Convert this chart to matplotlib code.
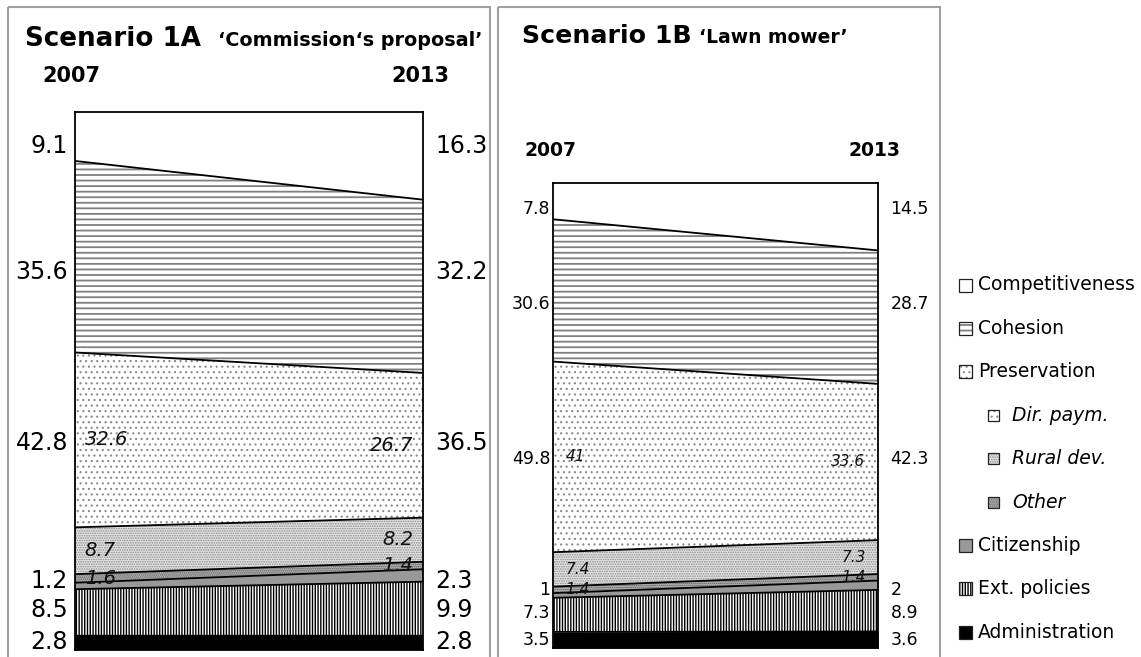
import numpy as np
import matplotlib
matplotlib.use('Agg')
import matplotlib.pyplot as plt
from matplotlib.patches import Rectangle

# ---------------- data ----------------
years = ['2007', '2013']
legend_names = ['Competitiveness', 'Cohesion', 'Preservation', 'Dir. paym.',
                'Rural dev.', 'Other', 'Citizenship', 'Ext. policies', 'Administration']

# Scenario 1A 'Commission's proposal'
admin_1a = [2.8, 2.8]
ext_1a = [8.5, 9.9]
citizen_1a = [1.2, 2.3]
preserv_1a = [42.8, 36.5]
other_1a = [1.6, 1.4]
rural_1a = [8.7, 8.2]
dirpay_1a = [32.6, 26.7]
cohesion_1a = [35.6, 32.2]
compet_1a = [9.1, 16.3]

# Scenario 1B 'Lawn mower'
admin_1b = [3.5, 3.6]
ext_1b = [7.3, 8.9]
citizen_1b = [1.0, 2.0]
preserv_1b = [49.8, 42.3]
other_1b = [1.4, 1.4]
rural_1b = [7.4, 7.3]
dirpay_1b = [41.0, 33.6]
cohesion_1b = [30.6, 28.7]
compet_1b = [7.8, 14.5]

# ---------------- styles ----------------
plt.rcParams['font.family'] = ['DejaVu Sans']

STY = {
    'Competitiveness': dict(fc='white', hc='white', hatch=None, hlw=0.8),
    'Cohesion': dict(fc='white', hc='#808080', hatch='---', hlw=1.3),
    'Preservation': dict(fc='white', hc='#8a8a8a', hatch='...', hlw=0.8),
    'Dir. paym.': dict(fc='white', hc='#8a8a8a', hatch='...', hlw=0.8),
    'Rural dev.': dict(fc='#e4e4e4', hc='#8a8a8a', hatch='.......', hlw=0.8),
    'Other': dict(fc='#b8b8b8', hc='#5a5a5a', hatch='........', hlw=0.8),
    'Citizenship': dict(fc='#999999', hc='#999999', hatch=None, hlw=0.8),
    'Ext. policies': dict(fc='white', hc='black', hatch='||||||', hlw=1.0),
    'Administration': dict(fc='black', hc='black', hatch=None, hlw=0.8),
}

W, H = 1141, 657
fig = plt.figure(figsize=(W / 100, H / 100), dpi=100)

# overlay axes in pixel coordinates for frames, titles and legend
ov = fig.add_axes([0, 0, 1, 1])
ov.set_xlim(0, W)
ov.set_ylim(H, 0)
ov.axis('off')
ov.patch.set_alpha(0)
ov.set_zorder(0)

ov.add_patch(Rectangle((8, 7), 482, 700, fill=False, ec='#a0a0a0', lw=1.5, clip_on=False))
ov.add_patch(Rectangle((498, 7), 442, 700, fill=False, ec='#a0a0a0', lw=1.5, clip_on=False))


def px_axes(x0, y0, x1, y1):
    return fig.add_axes([x0 / W, (H - y1) / H, (x1 - x0) / W, (y1 - y0) / H])


def fmt(v):
    return f"{v:g}"


def draw_panel(ax, admin, ext, citizen, preserv, other, rural, dirpay, cohesion, compet,
               outer_fs, inner_fs, out_off_l, out_off_r, in_off):
    x = np.array([0.0, 1.0])
    admin, ext, citizen = np.array(admin), np.array(ext), np.array(citizen)
    preserv, other, rural = np.array(preserv), np.array(other), np.array(rural)
    dirpay, cohesion, compet = np.array(dirpay), np.array(cohesion), np.array(compet)

    t_admin = admin
    t_ext = t_admin + ext
    t_cit = t_ext + citizen
    t_other = t_cit + other
    t_rural = t_other + rural
    t_pres = t_cit + preserv
    t_coh = t_pres + cohesion
    t_comp = t_coh + compet

    bands = [
        ('Administration', np.zeros(2), t_admin),
        ('Ext. policies', t_admin, t_ext),
        ('Citizenship', t_ext, t_cit),
        ('Other', t_cit, t_other),
        ('Rural dev.', t_other, t_rural),
        ('Dir. paym.', t_rural, t_pres),
        ('Cohesion', t_pres, t_coh),
        ('Competitiveness', t_coh, t_comp),
    ]
    for name, lo, hi in bands:
        s = STY[name]
        plt.rcParams['hatch.linewidth'] = s['hlw']
        ax.fill_between(x, lo, hi, facecolor=s['fc'], edgecolor=s['hc'],
                        hatch=s['hatch'], linewidth=0)
    for name, lo, hi in bands[1:-1]:
        ax.plot(x, hi, color='black', lw=1.3, solid_capstyle='butt')
    ax.plot(x, t_admin, color='black', lw=1.0)

    ax.set_xlim(0, 1)
    ax.set_ylim(0, 100)
    ax.set_xticks([])
    ax.set_yticks([])
    for sp in ax.spines.values():
        sp.set_linewidth(1.3)
        sp.set_color('black')

    # outer labels (centred on the band, averaged over both years)
    outer = [
        (compet, (t_coh + t_comp) / 2),
        (cohesion, (t_pres + t_coh) / 2),
        (preserv, (t_rural + t_pres) / 2),
        (citizen, (t_ext + t_cit) / 2),
        (ext, (t_admin + t_ext) / 2),
        (admin, t_admin / 2),
    ]
    for vals, mids in outer:
        ym = mids.mean()
        ax.annotate(fmt(vals[0]), xy=(0, ym), xytext=(-out_off_l, 0), textcoords='offset points',
                    ha='right', va='center', fontsize=outer_fs, annotation_clip=False)
        ax.annotate(fmt(vals[1]), xy=(1, ym), xytext=(out_off_r, 0), textcoords='offset points',
                    ha='left', va='center', fontsize=outer_fs, annotation_clip=False)

    # inner italic labels for preservation sub-items
    inner = [
        (dirpay, (t_rural + t_pres) / 2),
        (rural, (t_other + t_rural) / 2),
        (other, (t_cit + t_other) / 2),
    ]
    for vals, mids in inner:
        ax.annotate(fmt(vals[0]), xy=(0, mids[0]), xytext=(in_off, 0), textcoords='offset points',
                    ha='left', va='center', fontsize=inner_fs, style='italic', color='#111111')
        ax.annotate(fmt(vals[1]), xy=(1, mids[1]), xytext=(-in_off, 0), textcoords='offset points',
                    ha='right', va='center', fontsize=inner_fs, style='italic', color='#111111')


ax1 = px_axes(75, 112, 423, 650)
ax1.set_zorder(1)
draw_panel(ax1, admin_1a, ext_1a, citizen_1a, preserv_1a, other_1a, rural_1a, dirpay_1a,
           cohesion_1a, compet_1a, outer_fs=17, inner_fs=14, out_off_l=5, out_off_r=9, in_off=7)

ax2 = px_axes(553, 183, 878, 648)
ax2.set_zorder(1)
draw_panel(ax2, admin_1b, ext_1b, citizen_1b, preserv_1b, other_1b, rural_1b, dirpay_1b,
           cohesion_1b, compet_1b, outer_fs=12.5, inner_fs=11, out_off_l=2, out_off_r=9, in_off=9)

# titles
ov.text(25, 46, 'Scenario 1A', fontsize=18.8, fontweight='bold', ha='left', va='baseline')
ov.text(218, 46, '\u2018Commission\u2018s proposal\u2019', fontsize=13.8, fontweight='bold',
        ha='left', va='baseline')
ov.text(522, 43, 'Scenario 1B', fontsize=18.2, fontweight='bold', ha='left', va='baseline')
ov.text(699, 43, '\u2018Lawn mower\u2019', fontsize=13.5, fontweight='bold', ha='left', va='baseline')

# year headers
ov.text(71, 76, years[0], fontsize=15, fontweight='bold', ha='center', va='center')
ov.text(420, 76, years[1], fontsize=15, fontweight='bold', ha='center', va='center')
ov.text(551, 151, years[0], fontsize=13.5, fontweight='bold', ha='center', va='center')
ov.text(875, 151, years[1], fontsize=13.5, fontweight='bold', ha='center', va='center')

# legend
row_y = 285
row_step = 43.4
sub_items = {'Dir. paym.', 'Rural dev.', 'Other'}
for i, name in enumerate(legend_names):
    yc = row_y + i * row_step
    s = STY[name]
    if name in sub_items:
        sx, sz, tx, st = 988, 11, 1012, 'italic'
    else:
        sx, sz, tx, st = 959, 13, 978, 'normal'
    plt.rcParams['hatch.linewidth'] = s['hlw']
    ov.add_patch(Rectangle((sx, yc - sz / 2), sz, sz, facecolor=s['fc'], edgecolor=s['hc'],
                           hatch=s['hatch'], lw=0))
    ov.add_patch(Rectangle((sx, yc - sz / 2), sz, sz, fill=False, edgecolor='#222222', lw=0.9))
    ov.text(tx, yc, name, fontsize=13.5, style=st, ha='left', va='center')

fig.savefig('out.png', dpi=100)
